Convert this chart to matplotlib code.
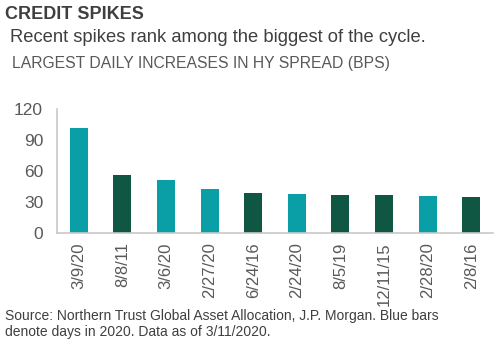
import matplotlib.pyplot as plt

plt.rcParams['font.family'] = ['Liberation Sans', 'DejaVu Sans']

dates = ['3/9/20', '8/8/11', '3/6/20', '2/27/20', '6/24/16',
         '2/24/20', '8/5/19', '12/11/15', '2/28/20', '2/8/16']
spread_bps = [102, 56, 51, 42, 39, 38, 37, 36.5, 35.5, 34.5]
is_2020 = [True, False, True, True, False, True, False, False, True, False]

teal = '#0a9fa6'
dark_green = '#0f5643'
grey_text = '#595959'

fig = plt.figure(figsize=(5, 3.44), dpi=100)
ax = fig.add_axes([0.114, 0.3235, 0.872, 0.3595])

colors = [teal if c else dark_green for c in is_2020]
ax.bar(range(len(dates)), spread_bps, width=0.41, color=colors)

ax.set_xlim(-0.5, 9.5)
ax.set_ylim(0, 120)
ax.set_yticks([0, 30, 60, 90, 120])
ax.set_xticks(range(len(dates)))
ax.set_xticklabels(dates, rotation=90, fontsize=12)
ax.tick_params(axis='both', length=0, colors=grey_text)
ax.tick_params(axis='y', pad=10, labelsize=12.5)
ax.tick_params(axis='x', pad=7)

for s in ['top', 'right']:
    ax.spines[s].set_visible(False)
for s in ['left', 'bottom']:
    ax.spines[s].set_color('#c8c8c8')
    ax.spines[s].set_linewidth(1.2)

# titles
fig.text(0.01, 0.958, 'CREDIT SPIKES', fontsize=13, fontweight='bold',
         color='#3f3f3f', va='center')
fig.text(0.02, 0.892, 'Recent spikes rank among the biggest of the cycle.',
         fontsize=13.2, color='#3f3f3f', va='center')
fig.text(0.024, 0.815, 'LARGEST DAILY INCREASES IN HY SPREAD (BPS)',
         fontsize=11.3, color=grey_text, va='center')

fig.text(0.01, 0.057, 'Source: Northern Trust Global Asset Allocation, J.P. Morgan. Blue bars\n'
         'denote days in 2020. Data as of 3/11/2020.',
         fontsize=10, color='#3f3f3f', va='center', linespacing=1.2)

fig.savefig('out.png', dpi=100)
